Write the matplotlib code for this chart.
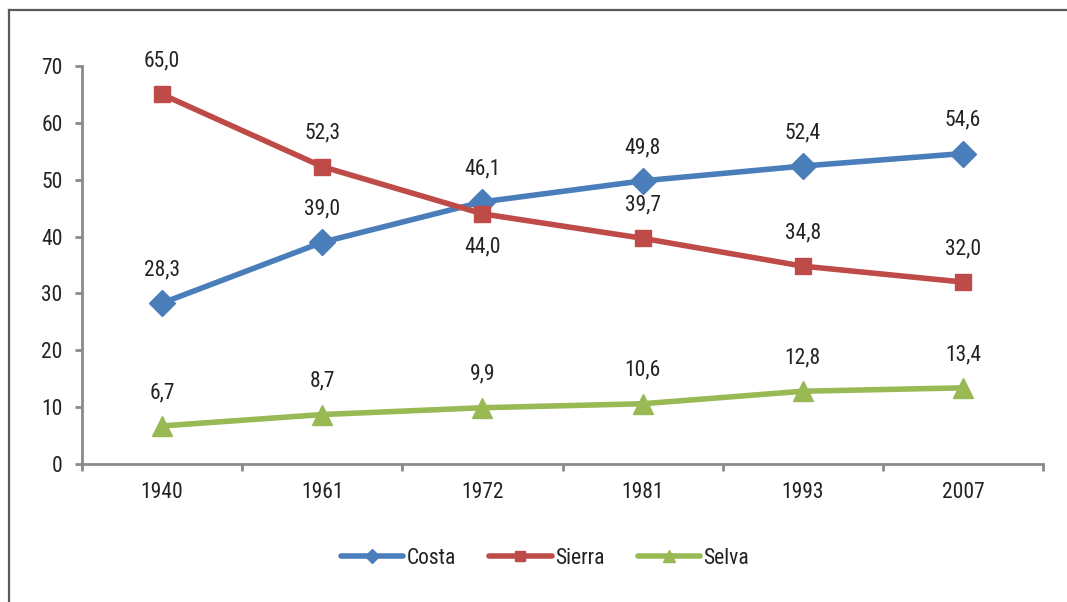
import matplotlib
matplotlib.use("Agg")
import matplotlib.pyplot as plt
from matplotlib.lines import Line2D

plt.rcParams['font.family'] = ['Roboto Condensed', 'Liberation Sans', 'DejaVu Sans']

years = ["1940", "1961", "1972", "1981", "1993", "2007"]
costa = [28.3, 39.0, 46.1, 49.8, 52.4, 54.6]
sierra = [65.0, 52.3, 44.0, 39.7, 34.8, 32.0]
selva = [6.7, 8.7, 9.9, 10.6, 12.8, 13.4]
series_names = ["Costa", "Sierra", "Selva"]
colors = ["#4A7EBB", "#BE4B48", "#98B954"]
markers = ["D", "s", "^"]
marker_sizes = [13, 12, 15]
# label placement: +1 above, -1 below
sierra_label_side = [1, 1, -1, 1, 1, 1]

fig = plt.figure(figsize=(10.67, 6.02), dpi=100)
ax = fig.add_axes([0.0769, 0.2292, 0.9775 - 0.0769, 0.8904 - 0.2292])

x = list(range(len(years)))
data = [costa, sierra, selva]
handles = []
for vals, name, c, m, ms in zip(data, series_names, colors, markers, marker_sizes):
    ax.plot(x, vals, color=c, lw=4.0, marker=m, ms=ms, mec=c, mfc=c, solid_capstyle='round', zorder=3)
    handles.append(Line2D([0], [0], color=c, lw=4.0, marker=m, ms=ms * 0.55, mec=c, mfc=c,
                          solid_capstyle='round'))

fs = 15.5
txtc = '#222222'
for i, v in enumerate(costa):
    ax.annotate(f"{v:.1f}".replace('.', ','), (i, v), xytext=(0, 24), textcoords='offset points',
                ha='center', va='center', fontsize=fs, color=txtc)
for i, v in enumerate(sierra):
    ax.annotate(f"{v:.1f}".replace('.', ','), (i, v), xytext=(0, 24 * sierra_label_side[i]),
                textcoords='offset points', ha='center', va='center', fontsize=fs, color=txtc)
for i, v in enumerate(selva):
    ax.annotate(f"{v:.1f}".replace('.', ','), (i, v), xytext=(0, 24), textcoords='offset points',
                ha='center', va='center', fontsize=fs, color=txtc)

ax.set_xlim(-0.5, len(years) - 0.5)
ax.set_ylim(0, 70)
ax.set_yticks(range(0, 71, 10))
ax.set_xticks(x)
ax.set_xticklabels(years)
ax.set_xticks([i - 0.5 for i in range(len(years) + 1)], minor=True)

for s in ['top', 'right']:
    ax.spines[s].set_visible(False)
for s in ['left', 'bottom']:
    ax.spines[s].set_color('#8A8A8A')
    ax.spines[s].set_linewidth(2)

ax.tick_params(axis='y', length=5, width=2, color='#8A8A8A', pad=9, labelsize=fs, labelcolor=txtc)
ax.tick_params(axis='x', which='major', length=0, pad=13, labelsize=fs, labelcolor=txtc)
ax.tick_params(axis='x', which='minor', length=5, width=2, color='#8A8A8A')

leg = fig.legend(handles, series_names, loc='center', bbox_to_anchor=(545 / 1067, 1 - 558 / 602),
                 ncol=3, frameon=False, fontsize=fs, handlelength=2.9, handletextpad=0.15,
                 columnspacing=1.55, labelcolor=txtc)

# outer border (top and left)
fig.add_artist(Line2D([8.5 / 1067, 1.0], [1 - 9.5 / 602, 1 - 9.5 / 602], transform=fig.transFigure,
                      color='#5A5A5A', lw=1.6))
fig.add_artist(Line2D([8.5 / 1067, 8.5 / 1067], [0, 1 - 9.5 / 602], transform=fig.transFigure,
                      color='#5A5A5A', lw=1.6))

fig.savefig("out.png", dpi=100, facecolor='white')
